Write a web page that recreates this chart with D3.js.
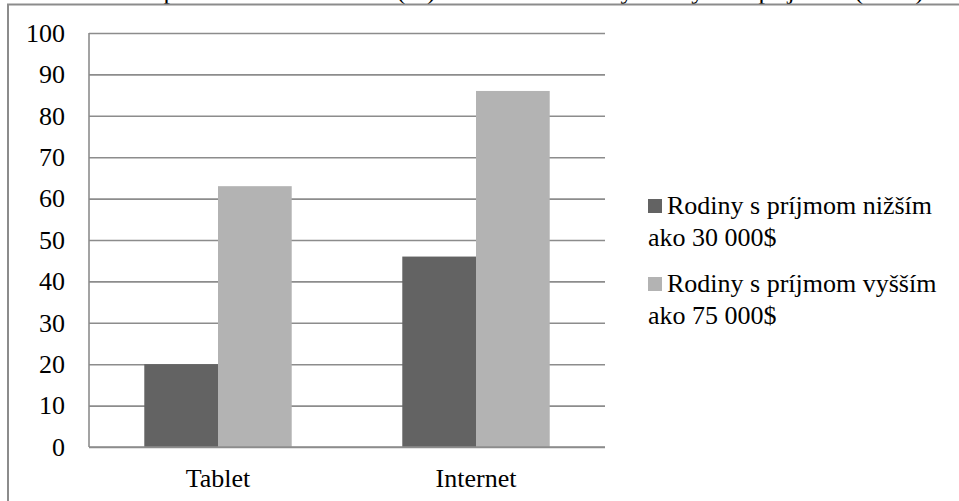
<!DOCTYPE html>
<html>
<head>
<meta charset="utf-8">
<script src="https://cdn.jsdelivr.net/npm/d3@7"></script>
<style>
body { margin: 0; background: #fff; }
svg text { font-family: "Liberation Serif", "Times New Roman", Tinos, "DejaVu Serif", serif !important; }
</style>
</head>
<body>
<div id="chart"></div>
<script>
var categories = ["Tablet", "Internet"];
var seriesNames = ["Rodiny s príjmom nižším ako 30 000$", "Rodiny s príjmom vyšším ako 75 000$"];
var lowIncome = [20, 46];
var highIncome = [63, 86];
var yTicks = [0, 10, 20, 30, 40, 50, 60, 70, 80, 90, 100];
var titleText = "Graf 1: Prístup k tabletu a internetu (%) v rodinách s nízkym a vyšším príjmom (USA)";

var width = 959;
var height = 501;
var color = ["#636363", "#b3b3b3"];
var gridColor = "#8c8c8c";
var serif = "'Liberation Serif', 'Times New Roman', Tinos, 'DejaVu Serif', serif";

var data = categories.map(function(c, i) {
	return {cat: c, values: [lowIncome[i], highIncome[i]]};
});

var svg = d3.select("#chart").append("svg")
	.attr("width", width)
	.attr("height", height)
	.attr("font-family", serif);

// title, cut off above the frame like in the source picture
svg.append("text")
	.attr("x", 22)
	.attr("y", -1)
	.style("font-size", "26px")
	.text(titleText);

// outer frame
svg.append("rect")
	.attr("x", 8)
	.attr("y", 4.5)
	.attr("width", 1000)
	.attr("height", 600)
	.attr("fill", "none")
	.attr("stroke", gridColor)
	.attr("stroke-width", 2);

/* Scale */
var x = d3.scaleBand()
	.domain(categories)
	.range([89, 605]);

var x1 = d3.scaleBand()
	.domain([0, 1])
	.range([0, x.bandwidth()])
	.paddingOuter(0.75)
	.paddingInner(0);

var y = d3.scaleLinear()
	.domain([0, 100])
	.range([447, 33]);

/* Grid */
var yAxis = d3.axisLeft(y)
	.tickValues(yTicks)
	.tickSize(-(605 - 89))
	.tickPadding(24);

var gy = svg.append("g")
	.attr("transform", "translate(89,0)")
	.call(yAxis)
	.attr("font-family", serif);
gy.select(".domain").remove();
gy.selectAll(".tick line")
	.attr("stroke", gridColor)
	.attr("stroke-width", 1.6);
gy.selectAll(".tick text")
	.attr("fill", "#000")
	.style("font-size", "26px");

// vertical axis line
svg.append("line")
	.attr("x1", 89).attr("x2", 89)
	.attr("y1", y(100)).attr("y2", y(0))
	.attr("stroke", gridColor)
	.attr("stroke-width", 1.6);

/* Bars */
var groups = svg.selectAll(".grp")
	.data(data).enter()
	.append("g")
	.attr("class", "grp")
	.attr("transform", d => "translate(" + x(d.cat) + ",0)");

groups.selectAll("rect")
	.data(d => d.values).enter()
	.append("rect")
	.attr("x", (d, i) => x1(i))
	.attr("y", d => y(d))
	.attr("width", x1.bandwidth())
	.attr("height", d => y(0) - y(d))
	.attr("fill", (d, i) => color[i]);

// baseline drawn over the bars
svg.append("line")
	.attr("x1", 89).attr("x2", 605)
	.attr("y1", y(0)).attr("y2", y(0))
	.attr("stroke", gridColor)
	.attr("stroke-width", 1.6);

/* Category labels */
var xAxis = d3.axisBottom(x).tickSize(0).tickPadding(22);
var gx = svg.append("g")
	.attr("transform", "translate(0," + y(0) + ")")
	.call(xAxis)
	.attr("font-family", serif);
gx.select(".domain").remove();
gx.selectAll(".tick text")
	.attr("fill", "#000")
	.style("font-size", "26px");

/* Legend */
var legendLines = [["Rodiny s príjmom nižším", "ako 30 000$"], ["Rodiny s príjmom vyšším", "ako 75 000$"]];
var legend = svg.selectAll(".leg")
	.data(seriesNames).enter()
	.append("g")
	.attr("class", "leg")
	.attr("transform", (d, i) => "translate(648," + (214 + i * 78) + ")");

legend.append("rect")
	.attr("x", 0)
	.attr("y", -15)
	.attr("width", 14)
	.attr("height", 14)
	.attr("fill", (d, i) => color[i]);

legend.append("text")
	.attr("x", 19)
	.attr("y", 0)
	.style("font-size", "26px")
	.selectAll("tspan")
	.data((d, i) => legendLines[i]).enter()
	.append("tspan")
	.attr("x", (d, j) => j === 0 ? 19 : 0)
	.attr("dy", (d, j) => j === 0 ? 0 : 32)
	.text(d => d);
</script>
</body>
</html>
